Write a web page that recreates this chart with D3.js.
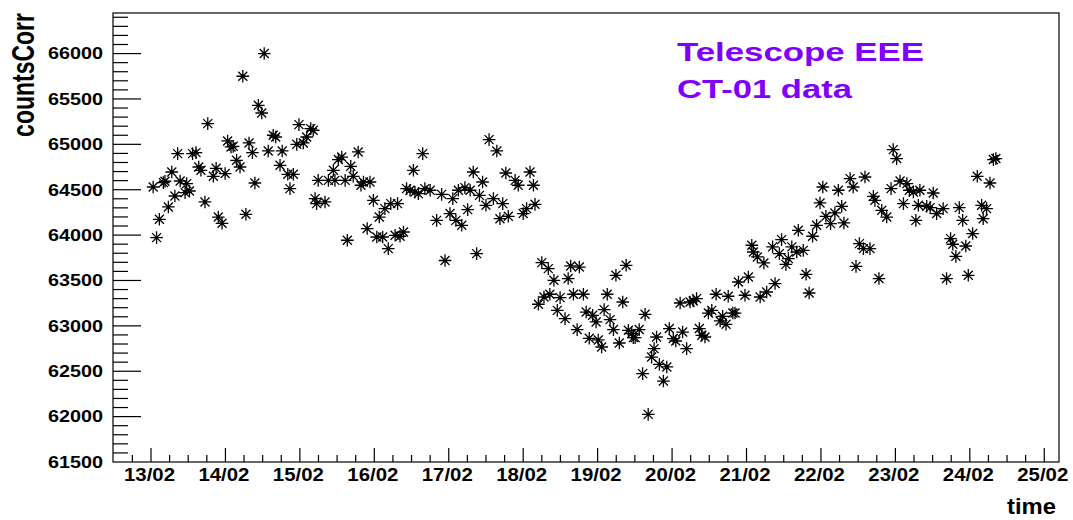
<!DOCTYPE html>
<html><head><meta charset="utf-8">
<script src="https://cdn.jsdelivr.net/npm/d3@7"></script>
<style>html,body{margin:0;padding:0;background:#fff;}svg{display:block;}text{font-family:"Liberation Sans",Arial,sans-serif;font-weight:bold;}</style>
</head><body><svg id="c" width="1073" height="520"></svg>
<script>
// hours since 13/02 00:00
const hours = [0.7,1.8,2.7,4.0,4.5,5.6,6.7,7.7,8.6,9.4,11.0,11.5,12.4,13.4,14.5,15.4,16.1,17.4,18.3,20.1,21.0,21.7,22.9,23.9,24.7,25.8,26.5,27.6,28.7,29.6,30.6,31.6,32.7,33.5,34.6,35.7,36.5,37.8,39.4,40.2,41.6,42.3,44.1,44.8,45.9,47.0,47.7,49.1,50.2,51.5,52.3,52.9,53.4,53.9,56.1,57.2,58.8,59.3,60.4,61.5,62.6,63.3,64.4,65.2,66.8,67.7,68.5,69.7,70.6,71.7,72.8,73.6,74.7,75.4,76.5,77.3,78.7,79.5,80.3,81.4,82.4,83.5,84.6,85.1,86.2,87.6,88.3,90.0,92.1,93.7,94.8,96.4,97.3,98.3,99.1,100.2,101.2,102.1,102.9,103.9,105.0,105.9,106.9,108.0,109.0,110.4,111.5,112.5,113.4,114.4,115.2,117.4,118.4,120.0,121.1,122.2,123.3,123.8,124.9,126.0,126.7,128.1,128.6,129.9,131.0,131.9,133.5,134.5,135.3,136.2,137.4,138.1,139.4,140.3,141.3,142.4,143.5,144.2,145.3,146.1,147.1,148.0,149.1,149.9,151.0,152.1,153.2,153.9,155.0,155.5,156.1,157.4,158.5,159.3,160.3,161.4,162.2,163.0,163.9,165.2,166.3,167.1,168.4,169.2,170.6,171.4,172.7,173.8,174.8,175.9,176.8,177.6,178.6,179.7,180.8,182.2,183.5,184.3,185.4,186.1,187.6,188.3,189.4,191.5,192.6,193.7,194.2,195.5,196.4,197.6,198.5,200.4,201.2,202.6,203.3,204.7,205.5,206.6,208.2,208.7,210.3,211.2,212.2,213.3,214.6,215.7,216.6,217.6,219.1,220.5,221.6,222.7,223.4,225.4,226.4,227.3,228.4,229.7,230.2,231.8,232.9,233.4,234.7,235.6,237.2,238.6,239.3,240.4,241.5,242.6,243.7,244.5,245.8,246.6,247.4,247.9,250.1,251.2,252.2,253.3,255.4,256.5,257.8,258.5,259.5,260.6,261.7,262.7,263.5,264.9,266.4,267.8,268.3,269.4,270.5,271.6,272.4];
const counts = [64530,63972,64174,64578,64593,64310,64695,64431,64898,64596,64468,64567,64486,64898,64909,64750,64714,64365,65228,64648,64736,64199,64130,64678,65037,64971,64978,64824,64750,65750,64229,65015,64909,64574,65430,65345,66000,64927,65100,65081,64769,64927,64670,64512,64670,65000,65217,65015,65081,65173,65155,64402,64347,64603,64365,64603,64714,64603,64832,64860,64603,63943,64758,64648,64916,64549,64585,64072,64585,64383,63979,64199,63979,64292,63851,64347,63998,64347,63987,64034,64512,64494,64714,64475,64457,64898,64512,64494,64162,64449,63720,64237,64402,64162,64494,64108,64523,64281,64494,64695,63796,64438,64585,64328,65052,64402,64927,64181,64347,64684,64207,64603,64549,64237,64292,64695,64549,64339,63238,63697,63318,63631,63348,63502,63171,63311,63080,63521,63660,63348,62959,63648,63348,63152,62863,63116,63043,62845,62767,63179,63348,63069,62959,63557,62811,63263,63667,62951,62915,62870,62870,62959,62474,63127,62025,62656,62749,62877,62576,62392,62547,62970,62860,62833,63252,62932,62749,63263,63274,63300,62970,62896,62877,63141,63171,63348,63054,63105,63017,63326,63141,63141,63483,63337,63538,63888,63814,63759,63318,63693,63373,63870,63466,63796,63950,63677,63741,63870,63814,64053,63832,63568,63362,63987,64108,64354,64530,64207,64126,64244,64494,64317,64134,64622,64530,63655,63906,63851,64640,63851,64427,64383,63521,64273,64199,64512,64942,64843,64596,64347,64567,64494,64475,64162,64328,64494,64317,64303,64464,64237,64292,63521,63961,63899,63766,64303,64162,63880,63557,64017,64648,64328,64181,64292,64574,64832,64843];
const dayLabels = ["13/02","14/02","15/02","16/02","17/02","18/02","19/02","20/02","21/02","22/02","23/02","24/02","25/02"];
const yTickValues = [61500,62000,62500,63000,63500,64000,64500,65000,65500,66000];
const titleLines = ["Telescope EEE","CT-01 data"];

const svg = d3.select("#c");
const L=113, R=1059, T=13, B=462;
const x = d3.scaleLinear().domain([-12.25, 292.75]).range([L, R]);
const y = d3.scaleLinear().domain([61500, 66447]).range([B, T]);

// frame
svg.append("rect").attr("x",L).attr("y",T).attr("width",R-L).attr("height",B-T)
  .attr("fill","none").attr("stroke","#000").attr("stroke-width",1.2);

// y axis ticks
const yMinor = d3.range(61600, 66447, 100).filter(v => v % 500 !== 0);
const gy = svg.append("g");
gy.selectAll("line.mn").data(yMinor).join("line")
  .attr("x1",L).attr("x2",L+15).attr("y1",d=>y(d)).attr("y2",d=>y(d))
  .attr("stroke","#000").attr("stroke-width",1.2);
gy.selectAll("line.mj").data(yTickValues.filter(v=>v>61500)).join("line")
  .attr("x1",L).attr("x2",L+28).attr("y1",d=>y(d)).attr("y2",d=>y(d))
  .attr("stroke","#000").attr("stroke-width",1.2);
gy.selectAll("text").data(yTickValues).join("text")
  .attr("x",103).attr("y",d=>y(d)+5.8).attr("text-anchor","end")
  .attr("font-size",17).attr("textLength",55).attr("lengthAdjust","spacingAndGlyphs")
  .attr("fill","#000").text(d=>d);

// x axis ticks
const xMinor = d3.range(-6, 292.75, 6).filter(h => h % 24 !== 0);
const xMajor = dayLabels.map((d,i)=>i*24);
const gx = svg.append("g");
gx.selectAll("line.mn").data(xMinor).join("line")
  .attr("x1",d=>x(d)).attr("x2",d=>x(d)).attr("y1",B).attr("y2",B-7)
  .attr("stroke","#000").attr("stroke-width",1.2);
gx.selectAll("line.mj").data(xMajor).join("line")
  .attr("x1",d=>x(d)).attr("x2",d=>x(d)).attr("y1",B).attr("y2",B-14)
  .attr("stroke","#000").attr("stroke-width",1.2);
gx.selectAll("text").data(dayLabels).join("text")
  .attr("x",(d,i)=>x(i*24)-1.5).attr("y",481).attr("text-anchor","middle")
  .attr("font-size",19).attr("textLength",51).attr("lengthAdjust","spacingAndGlyphs")
  .attr("fill","#000").text(d=>d);

// axis titles
svg.append("text").attr("transform","translate(34.3,13) scale(1.38,1) rotate(-90)")
  .attr("text-anchor","end").attr("font-size",23).attr("fill","#000").text("countsCorr");
svg.append("text").attr("x",1056).attr("y",514).attr("text-anchor","end")
  .attr("font-size",22).attr("textLength",49).attr("lengthAdjust","spacingAndGlyphs")
  .attr("fill","#000").text("time");

// annotation
const widths = [247,175];
svg.selectAll("text.ann").data(titleLines).join("text").attr("class","ann")
  .attr("x",677).attr("y",(d,i)=>60.7+i*37.6).attr("font-size",25)
  .attr("textLength",(d,i)=>widths[i]).attr("lengthAdjust","spacingAndGlyphs")
  .attr("fill","#8000ff").text(d=>d);

// markers (ROOT style 3 asterisk)
const r=6.3, dd=4.5;
const star = `M${-r},0L${r},0M0,${-r}L0,${r}M${-dd},${-dd}L${dd},${dd}M${-dd},${dd}L${dd},${-dd}`;
const data = hours.map((h,i)=>({h, v:counts[i]}));
const gm = svg.append("g");
const pts = gm.selectAll("g").data(data).join("g")
  .attr("transform",d=>`translate(${x(d.h)},${y(d.v)})`);
pts.append("path").attr("d",star).attr("stroke","#000").attr("stroke-width",1.3).attr("fill","none");
pts.append("circle").attr("r",1.6).attr("fill","#000");
</script></body></html>
